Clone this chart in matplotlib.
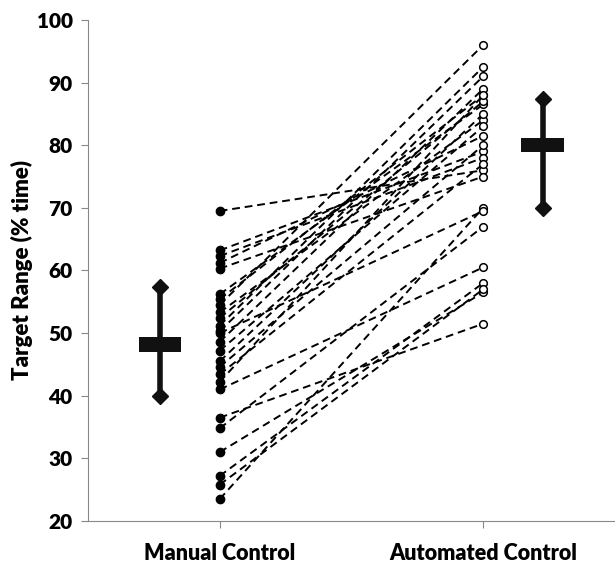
import matplotlib.pyplot as plt
import matplotlib as mpl

# values
groups = ['Manual Control', 'Automated Control']
manual = [69.5, 63.2, 62.3, 61.2, 60.3, 56.2, 55.4, 54.5, 53.3, 52.4, 51.2, 50.3, 48.6,
          47.2, 45.5, 44.6, 43.4, 42.2, 41.0, 36.5, 34.8, 31.0, 27.2, 25.8, 23.5, 50.0]
automated = [76.0, 79.0, 78.0, 81.5, 75.0, 86.5, 88.0, 96.0, 84.0, 87.0, 92.5, 91.0, 89.0,
             83.0, 85.0, 80.0, 77.0, 88.0, 60.5, 51.5, 67.0, 56.5, 58.0, 57.0, 70.0, 69.5]
summary_mean = [48.2, 80.0]
summary_low = [40.0, 70.0]
summary_high = [57.3, 87.3]

mpl.rcParams.update({'font.family': ['Lato', 'DejaVu Sans'], 'font.weight': 'bold'})

dpi = 100
fig = plt.figure(dpi=dpi, figsize=(615 / dpi, 563 / dpi))
ax = fig.add_axes([0.143, 0.0746, 0.857, 0.89])

x_pos = [1, 3]
sum_pos = [0.55, 3.45]

# paired dashed lines
for m, a in zip(manual, automated):
    ax.plot(x_pos, [m, a], color='black', ls=(0, (4, 2.5)), lw=1.4, zorder=2)

ax.plot([x_pos[0]] * len(manual), manual, 'o', color='black', ms=6, zorder=3)
ax.plot([x_pos[1]] * len(automated), automated, 'o', mfc='white', mec='black',
        mew=1.1, ms=5.5, zorder=3)

# summary markers: range with diamond ends and a bar at the mean
for xs, lo, hi, mu in zip(sum_pos, summary_low, summary_high, summary_mean):
    ax.plot([xs, xs], [lo, hi], color='#111111', lw=4, zorder=4)
    ax.plot([xs, xs], [lo, hi], 'D', color='#111111', ms=8, zorder=4)
    ax.fill_between([xs - 0.16, xs + 0.16], mu - 1.15, mu + 1.15, color='#111111', zorder=5, lw=0)

ax.set_xlim(0, 4)
ax.set_ylim(20, 100)
ax.set_yticks(range(20, 101, 10))
ax.set_xticks(x_pos)
ax.set_xticklabels(groups, fontsize=15.5, fontweight='heavy')
ax.tick_params(axis='y', labelsize=15, direction='out', length=5, color='#888888', pad=6)
for lbl in ax.get_yticklabels():
    lbl.set_fontweight('heavy')
ax.tick_params(axis='x', direction='out', length=5, color='#888888', pad=11)
ax.set_ylabel('Target Range (% time)', fontsize=16, fontweight='heavy', labelpad=3)

for s in ['top', 'right']:
    ax.spines[s].set_visible(False)
for s in ['left', 'bottom']:
    ax.spines[s].set_color('#888888')

fig.savefig('out.png', dpi=dpi)
